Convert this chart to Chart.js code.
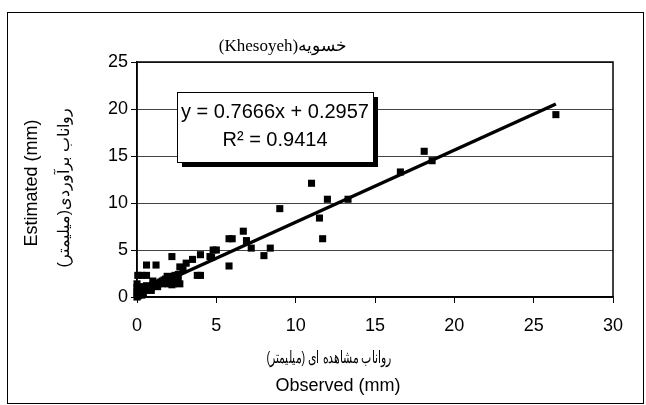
<!DOCTYPE html>
<html>
<head>
<meta charset="utf-8">
<script src="https://cdn.jsdelivr.net/npm/chart.js@4.4.0/dist/chart.umd.min.js"></script>
<style>
html, body { margin: 0; padding: 0; background: #fff; }
#wrap { width: 646px; height: 405px; }
</style>
</head>
<body>
<div id="wrap"><canvas id="chart" width="646" height="405"></canvas></div>
<script>
// Observed vs estimated runoff (mm)
const observed = [
    26.4, 18.1, 18.6, 16.6, 11.0, 12.0, 13.3, 11.5, 11.7, 9.0,
    6.7, 6.9, 7.2, 8.4, 8.0, 5.8, 6.0, 5.8, 4.8, 5.0,
    4.6, 4.7, 4.0, 3.8, 4.0, 3.5, 3.1, 2.7, 2.9, 2.2,
    0.6, 1.2, 0.05, 0.3, 0.6, 2.0, 2.3, 2.7, 2.5, 2.1,
    0, 0, 0, 0, 0, 0.05, 0.1, 0.15, 0.2, 0.25,
    0.3, 0.35, 0.4, 0.5, 0.6, 0.7, 0.8, 0.9, 1.0, 1.1,
    1.2, 1.3, 1.4, 1.5, 1.6, 1.7, 1.8, 1.9, 2.0, 2.1,
    2.2, 2.3, 2.4, 2.5, 2.6, 0.1, 0.2, 0.4, 0.3, 0.6,
    0.9, 1.0, 1.3, 1.6, 1.9, 2.2, 2.4, 2.6
];
const estimated = [
    19.4, 15.5, 14.5, 13.3, 12.1, 10.4, 10.4, 8.4, 6.2, 9.4,
    7.0, 6.0, 5.2, 5.2, 4.4, 6.2, 6.2, 3.3, 5.0, 5.0,
    4.3, 4.2, 4.5, 2.3, 2.3, 4.0, 3.6, 3.2, 3.0, 4.3,
    3.4, 3.4, 2.3, 2.3, 2.3, 1.4, 1.4, 1.4, 1.6, 1.5,
    0, 0.3, 0.6, 1.0, 1.4, 0.1, 0.2, 0.4, 0.3, 0.5,
    0.6, 0.5, 0.8, 0.7, 0.9, 1.0, 1.1, 1.0, 1.3, 1.2,
    1.3, 1.4, 1.5, 1.6, 1.7, 1.8, 1.9, 1.8, 2.0, 2.1,
    2.0, 2.2, 2.3, 2.2, 2.4, 0.9, 1.1, 0.4, 0.2, 1.2,
    0.7, 1.7, 1.1, 1.4, 2.2, 1.3, 1.5, 1.7
];

// linear trendline shown on the chart
const slope = 0.7666;
const intercept = 0.2957;
const trendX = [0, 26.4];

const xTicks = [0, 5, 10, 15, 20, 25, 30];
const yTicks = [0, 5, 10, 15, 20, 25];

const chartTitle = '(Khesoyeh)خسویه';
const xTitle = ['رواناب مشاهده ای (میلیمتر)', 'Observed (mm)'];
const yTitle = ['Estimated (mm)', 'رواناب برآوردی(میلیمتر)'];
const eqLines = ['y = 0.7666x + 0.2957', 'R² = 0.9414'];

const points = observed.map((x, i) => ({ x: x, y: estimated[i] }));
const trend = trendX.map(x => ({ x: x, y: slope * x + intercept }));

const sans = 'Liberation Sans, Arial, sans-serif';

// draw text squeezed horizontally (Persian fallback font is wide)
function squeezed(ctx, text, x, y, sx, rot) {
    ctx.save();
    ctx.translate(x, y);
    if (rot) ctx.rotate(rot);
    ctx.scale(sx, 1);
    ctx.fillText(text, 0, 0);
    ctx.restore();
}

// frame, titles, equation box
const extras = {
    id: 'extras',
    afterDraw(chart) {
        const ctx = chart.ctx;
        const a = chart.chartArea;
        ctx.save();

        ctx.strokeStyle = '#000';
        ctx.lineWidth = 1;
        ctx.strokeRect(7.5, 12.5, 636, 391);

        ctx.lineWidth = 1.5;
        ctx.strokeRect(a.left, a.top, a.right - a.left, a.bottom - a.top);

        ctx.fillStyle = '#000';
        ctx.textAlign = 'center';
        ctx.textBaseline = 'middle';

        ctx.font = '17px Liberation Serif, DejaVu Serif, serif';
        ctx.fillText(chartTitle, 283, 47);

        ctx.font = '17px ' + sans;
        squeezed(ctx, xTitle[0], 329, 358, 0.64, 0);
        ctx.font = '18px ' + sans;
        ctx.fillText(xTitle[1], 338, 386);

        ctx.font = '18px ' + sans;
        squeezed(ctx, yTitle[0], 32, 183, 1, -Math.PI / 2);
        ctx.font = '16px ' + sans;
        squeezed(ctx, yTitle[1], 65, 188, 1, -Math.PI / 2);

        // equation box with shadow
        const bx = 177, by = 92, bw = 196, bh = 70;
        ctx.fillStyle = '#000';
        ctx.fillRect(bx + 5, by + 5, bw, bh);
        ctx.fillStyle = '#fff';
        ctx.fillRect(bx, by, bw, bh);
        ctx.lineWidth = 1;
        ctx.strokeStyle = '#000';
        ctx.strokeRect(bx + 0.5, by + 0.5, bw, bh);

        ctx.fillStyle = '#000';
        ctx.font = '20px ' + sans;
        ctx.fillText(eqLines[0], bx + bw / 2, by + 20);
        ctx.fillText(eqLines[1], bx + bw / 2, by + 48);

        ctx.restore();
    }
};

new Chart(document.getElementById('chart'), {
    type: 'scatter',
    data: {
        datasets: [{
            label: 'Khesoyeh',
            data: points,
            pointStyle: 'rect',
            pointRadius: 5,
            pointBorderWidth: 0,
            backgroundColor: '#000',
            borderColor: '#000',
            clip: 8
        }, {
            type: 'line',
            label: 'Trend',
            data: trend,
            borderColor: '#000',
            borderWidth: 3.5,
            pointRadius: 0,
            fill: false,
            clip: 8
        }]
    },
    options: {
        responsive: false,
        animation: false,
        devicePixelRatio: 1,
        layout: { padding: { top: 62, right: 33, left: 0, bottom: 0 } },
        plugins: {
            legend: { display: false },
            tooltip: { enabled: false }
        },
        scales: {
            x: {
                type: 'linear',
                min: 0,
                max: 30,
                afterBuildTicks: s => { s.ticks = xTicks.map(v => ({ value: v })); },
                afterFit: s => { s.height = 108; },
                ticks: { color: '#000', font: { family: sans, size: 18 }, padding: 12 },
                grid: { drawOnChartArea: false, drawTicks: true, tickLength: 6, tickColor: '#000' },
                border: { display: true, color: '#000', width: 1.5 }
            },
            y: {
                min: 0,
                max: 25,
                afterBuildTicks: s => { s.ticks = yTicks.map(v => ({ value: v })); },
                afterFit: s => { s.width = 137; },
                ticks: { color: '#000', font: { family: sans, size: 18 }, padding: 3 },
                grid: { color: '#444', lineWidth: 1, drawTicks: true, tickLength: 6, tickColor: '#000' },
                border: { display: true, color: '#000', width: 1.5 }
            }
        }
    },
    plugins: [extras]
});
</script>
</body>
</html>
